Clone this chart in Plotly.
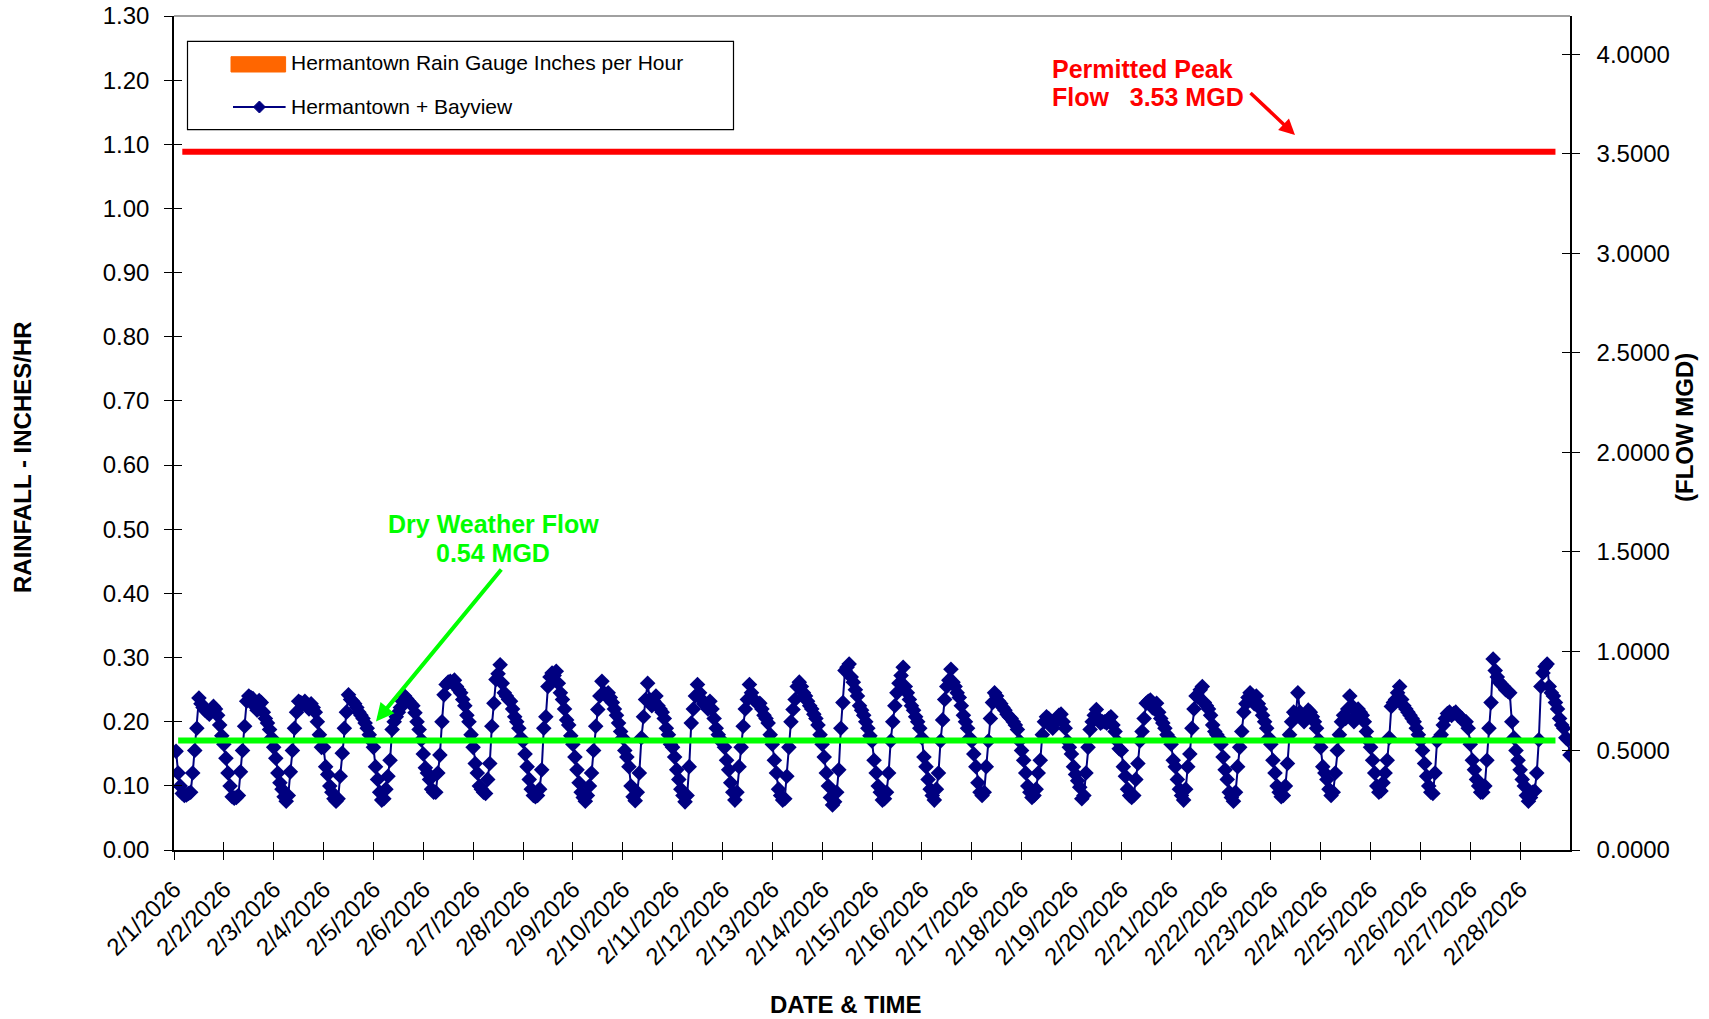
import pandas as pd
import plotly.graph_objects as go

# ---------------- data (hourly flow, MGD) ----------------
feb01 = [0.496, 0.387, 0.322, 0.284, 0.274, 0.277, 0.284, 0.290, 0.387, 0.500, 0.612, 0.764, 0.735, 0.716, 0.703, 0.693, 0.683, 0.703, 0.722, 0.709, 0.677, 0.628, 0.574]
feb02 = [0.532, 0.461, 0.387, 0.322, 0.268, 0.261, 0.264, 0.274, 0.393, 0.500, 0.622, 0.748, 0.774, 0.767, 0.761, 0.722, 0.703, 0.751, 0.741, 0.693, 0.661, 0.638, 0.606, 0.564]
feb03 = [0.516, 0.461, 0.387, 0.338, 0.306, 0.268, 0.245, 0.274, 0.393, 0.500, 0.612, 0.693, 0.748, 0.741, 0.735, 0.748, 0.725, 0.709, 0.735, 0.716, 0.693, 0.645, 0.580, 0.516]
feb04 = [0.516, 0.419, 0.380, 0.322, 0.290, 0.258, 0.245, 0.258, 0.371, 0.487, 0.612, 0.693, 0.780, 0.757, 0.748, 0.735, 0.716, 0.693, 0.677, 0.661, 0.638, 0.612, 0.580, 0.548]
feb05 = [0.516, 0.419, 0.355, 0.290, 0.251, 0.258, 0.306, 0.371, 0.451, 0.606, 0.645, 0.670, 0.693, 0.716, 0.748, 0.774, 0.761, 0.748, 0.735, 0.725, 0.690, 0.645, 0.606, 0.554]
feb06 = [0.483, 0.413, 0.387, 0.355, 0.306, 0.290, 0.290, 0.387, 0.477, 0.645, 0.780, 0.832, 0.844, 0.848, 0.844, 0.854, 0.822, 0.806, 0.790, 0.757, 0.725, 0.677, 0.645, 0.580]
feb07 = [0.516, 0.435, 0.387, 0.322, 0.306, 0.290, 0.284, 0.355, 0.435, 0.622, 0.738, 0.857, 0.886, 0.931, 0.838, 0.790, 0.774, 0.757, 0.748, 0.709, 0.670, 0.645, 0.612, 0.564]
feb08 = [0.548, 0.483, 0.419, 0.355, 0.306, 0.274, 0.268, 0.274, 0.306, 0.403, 0.612, 0.670, 0.822, 0.870, 0.890, 0.877, 0.899, 0.838, 0.790, 0.757, 0.709, 0.654, 0.628, 0.574]
feb09 = [0.532, 0.467, 0.403, 0.338, 0.290, 0.264, 0.245, 0.274, 0.322, 0.387, 0.500, 0.622, 0.706, 0.774, 0.848, 0.790, 0.774, 0.790, 0.767, 0.741, 0.709, 0.677, 0.638, 0.596]
feb10 = [0.564, 0.500, 0.467, 0.419, 0.322, 0.268, 0.248, 0.290, 0.387, 0.564, 0.670, 0.757, 0.838, 0.757, 0.725, 0.748, 0.774, 0.725, 0.709, 0.693, 0.661, 0.612, 0.580, 0.532]
feb11 = [0.516, 0.467, 0.403, 0.355, 0.306, 0.274, 0.242, 0.274, 0.419, 0.638, 0.709, 0.774, 0.832, 0.790, 0.757, 0.735, 0.725, 0.709, 0.748, 0.709, 0.661, 0.612, 0.580, 0.548]
feb12 = [0.548, 0.516, 0.451, 0.403, 0.338, 0.290, 0.251, 0.290, 0.419, 0.516, 0.622, 0.709, 0.757, 0.832, 0.790, 0.757, 0.748, 0.735, 0.738, 0.709, 0.677, 0.661, 0.638, 0.580]
feb13 = [0.532, 0.451, 0.387, 0.306, 0.274, 0.251, 0.258, 0.371, 0.516, 0.645, 0.706, 0.757, 0.822, 0.844, 0.822, 0.790, 0.774, 0.748, 0.725, 0.709, 0.683, 0.661, 0.628, 0.580]
feb14 = [0.532, 0.467, 0.387, 0.322, 0.264, 0.226, 0.242, 0.290, 0.403, 0.612, 0.741, 0.902, 0.919, 0.935, 0.870, 0.844, 0.806, 0.774, 0.725, 0.703, 0.677, 0.645, 0.612, 0.574]
feb15 = [0.548, 0.451, 0.387, 0.322, 0.290, 0.251, 0.258, 0.290, 0.387, 0.548, 0.645, 0.725, 0.790, 0.838, 0.877, 0.919, 0.822, 0.790, 0.757, 0.725, 0.703, 0.670, 0.645, 0.612]
feb16 = [0.564, 0.467, 0.419, 0.355, 0.306, 0.274, 0.251, 0.306, 0.387, 0.548, 0.654, 0.757, 0.822, 0.854, 0.909, 0.844, 0.822, 0.790, 0.767, 0.725, 0.677, 0.645, 0.612, 0.564]
feb17 = [0.548, 0.483, 0.419, 0.338, 0.290, 0.274, 0.290, 0.419, 0.548, 0.661, 0.741, 0.790, 0.774, 0.748, 0.735, 0.716, 0.703, 0.683, 0.670, 0.661, 0.645, 0.628, 0.606, 0.548]
feb18 = [0.500, 0.451, 0.387, 0.322, 0.290, 0.264, 0.274, 0.306, 0.387, 0.451, 0.580, 0.645, 0.670, 0.661, 0.645, 0.612, 0.638, 0.661, 0.677, 0.683, 0.645, 0.612, 0.548, 0.516]
feb19 = [0.483, 0.419, 0.380, 0.348, 0.316, 0.258, 0.274, 0.387, 0.516, 0.606, 0.645, 0.677, 0.706, 0.661, 0.638, 0.645, 0.645, 0.638, 0.661, 0.670, 0.628, 0.596, 0.548, 0.509]
feb20 = [0.500, 0.419, 0.371, 0.306, 0.274, 0.264, 0.274, 0.355, 0.435, 0.548, 0.596, 0.661, 0.738, 0.748, 0.754, 0.716, 0.709, 0.738, 0.693, 0.661, 0.638, 0.612, 0.580, 0.564]
feb21 = [0.532, 0.451, 0.419, 0.355, 0.306, 0.274, 0.251, 0.306, 0.419, 0.483, 0.612, 0.709, 0.774, 0.767, 0.806, 0.822, 0.741, 0.725, 0.709, 0.677, 0.628, 0.596, 0.580, 0.564]
feb22 = [0.532, 0.467, 0.403, 0.355, 0.290, 0.264, 0.245, 0.290, 0.419, 0.516, 0.596, 0.693, 0.735, 0.767, 0.790, 0.757, 0.735, 0.774, 0.735, 0.709, 0.677, 0.645, 0.612, 0.564]
feb23 = [0.532, 0.451, 0.387, 0.322, 0.290, 0.268, 0.274, 0.322, 0.435, 0.580, 0.645, 0.693, 0.683, 0.790, 0.693, 0.661, 0.645, 0.677, 0.703, 0.693, 0.670, 0.645, 0.612, 0.554]
feb24 = [0.516, 0.419, 0.387, 0.355, 0.306, 0.274, 0.290, 0.387, 0.500, 0.580, 0.645, 0.677, 0.661, 0.709, 0.774, 0.725, 0.645, 0.677, 0.709, 0.693, 0.677, 0.645, 0.596, 0.548]
feb25 = [0.516, 0.451, 0.387, 0.322, 0.290, 0.297, 0.338, 0.387, 0.451, 0.564, 0.722, 0.741, 0.757, 0.790, 0.822, 0.757, 0.725, 0.709, 0.693, 0.677, 0.661, 0.645, 0.612, 0.580]
feb26 = [0.548, 0.500, 0.435, 0.371, 0.322, 0.290, 0.284, 0.387, 0.548, 0.564, 0.580, 0.628, 0.661, 0.686, 0.693, 0.677, 0.686, 0.693, 0.677, 0.670, 0.661, 0.645, 0.645, 0.612]
feb27 = [0.532, 0.451, 0.403, 0.355, 0.322, 0.290, 0.290, 0.322, 0.451, 0.612, 0.741, 0.960, 0.902, 0.870, 0.844, 0.832, 0.822, 0.806, 0.799, 0.790, 0.645, 0.564, 0.500, 0.451]
feb28 = [0.403, 0.355, 0.322, 0.274, 0.245, 0.264, 0.290, 0.297, 0.387, 0.554, 0.822, 0.890, 0.922, 0.935, 0.822, 0.790, 0.774, 0.741, 0.709, 0.661, 0.628, 0.612, 0.564, 0.554]
mar01 = [0.477]

flow_days = [feb01, feb02, feb03, feb04, feb05, feb06, feb07, feb08, feb09, feb10,
             feb11, feb12, feb13, feb14, feb15, feb16, feb17, feb18, feb19, feb20,
             feb21, feb22, feb23, feb24, feb25, feb26, feb27, feb28, mar01]
flow_mgd = [v for day in flow_days for v in day]
flow_start = "2026-02-01 01:00"

# reference lines (MGD)
peak_flow_mgd = 3.51
peak_line_time = ["2026-02-01 04:00", "2026-02-28 17:00"]
dry_flow_mgd = 0.55
dry_line_time = ["2026-02-01 02:00", "2026-02-28 17:00"]

# axes
x_range = ["2026-02-01", "2026-03-01"]
tick_dates = pd.date_range("2026-02-01", "2026-02-28", freq="D")
rain_range = [0, 1.30]
flow_range = [0, 4.193]

# ---------------- figure ----------------
FONT = "Arial, 'Liberation Sans', sans-serif"
W, H = 1709, 1019
L, R, T, B = 174, 139, 16, 169
PW, PH = W - L - R, H - T - B


def px(xp):
    return (xp - L) / PW


def py(yp):
    return (H - B - yp) / PH


flow_time = pd.date_range(flow_start, periods=len(flow_mgd), freq="h")

fig = go.Figure()
fig.add_trace(go.Bar(x=[], y=[], name="Hermantown Rain Gauge Inches per Hour",
                     marker_color="#FF6600", yaxis="y", showlegend=False))
fig.add_trace(go.Scatter(x=flow_time, y=flow_mgd, name="Hermantown + Bayview",
                         mode="lines+markers", yaxis="y2",
                         line=dict(color="#000080", width=2),
                         marker=dict(symbol="diamond", size=12, color="#000080"),
                         showlegend=False))
fig.add_trace(go.Scatter(x=dry_line_time, y=[dry_flow_mgd, dry_flow_mgd], mode="lines",
                         yaxis="y2", line=dict(color="#00FF00", width=6),
                         showlegend=False, name="Dry Weather Flow"))
fig.add_trace(go.Scatter(x=peak_line_time, y=[peak_flow_mgd, peak_flow_mgd], mode="lines",
                         yaxis="y2", line=dict(color="#FF0000", width=6),
                         showlegend=False, name="Permitted Peak Flow"))
# dummy traces for inner tick axes
fig.add_trace(go.Scatter(x=[], y=[], xaxis="x2", yaxis="y3", showlegend=False, hoverinfo="skip"))
fig.add_trace(go.Scatter(x=[], y=[], xaxis="x2", yaxis="y4", showlegend=False, hoverinfo="skip"))

tickfont = dict(family=FONT, size=24, color="black")
common = dict(showgrid=False, zeroline=False, ticks="outside", ticklen=8, tickwidth=1.3,
              tickcolor="black", showline=True, linecolor="black", linewidth=1.5)

fig.update_layout(
    width=W, height=H,
    margin=dict(l=L, r=R, t=T, b=B, autoexpand=False),
    plot_bgcolor="white", paper_bgcolor="white",
    font=dict(family=FONT, color="black"),
    showlegend=False,
    xaxis=dict(type="date", range=x_range, tickvals=tick_dates, tickformat="%-m/%-d/%Y",
               tickangle=-45, tickfont=tickfont, ticklabelstandoff=6, **common),
    yaxis=dict(range=rain_range, tick0=0, dtick=0.1, tickformat=".2f", tickfont=tickfont,
               ticklabelstandoff=10, **common),
    yaxis2=dict(range=flow_range, tick0=0, dtick=0.5, tickformat=".4f", tickfont=tickfont,
                overlaying="y", side="right", anchor="x", ticklabelstandoff=12, **common),
    xaxis2=dict(type="date", range=x_range, tickvals=tick_dates, overlaying="x", anchor="y",
                showticklabels=False, ticks="inside", ticklen=8, tickwidth=1.3, tickcolor="black",
                showgrid=False, zeroline=False, showline=False),
    yaxis3=dict(range=rain_range, tick0=0, dtick=0.1, overlaying="y", side="left", anchor="x2",
                showticklabels=False, ticks="inside", ticklen=8, tickwidth=1.3, tickcolor="black",
                showgrid=False, zeroline=False, showline=False),
    yaxis4=dict(range=flow_range, tick0=0, dtick=0.5, overlaying="y", side="right", anchor="x2",
                showticklabels=False, ticks="inside", ticklen=8, tickwidth=1.3, tickcolor="black",
                showgrid=False, zeroline=False, showline=False),
)

# top border of plot area
fig.add_shape(type="line", xref="paper", yref="paper", x0=0, x1=1, y0=1, y1=1,
              line=dict(color="#808080", width=1.3))

# ---------------- manual legend ----------------
fig.add_shape(type="rect", xref="paper", yref="paper",
              x0=px(187.5), x1=px(733.5), y0=py(129.7), y1=py(41.4),
              line=dict(color="black", width=1.2), fillcolor="white", layer="above")
fig.add_shape(type="rect", xref="paper", yref="paper",
              x0=px(231), x1=px(285.6), y0=py(72), y1=py(56.7),
              line=dict(color="#FF6600", width=1), fillcolor="#FF6600", layer="above")
fig.add_shape(type="line", xref="paper", yref="paper",
              x0=px(233), x1=px(285.6), y0=py(107), y1=py(107),
              line=dict(color="#000080", width=2), layer="above")
cx, cy, dx, dy = px(259.4), py(107), 6 / PW, 6 / PH
fig.add_shape(type="path", xref="paper", yref="paper",
              path=f"M {cx-dx},{cy} L {cx},{cy+dy} L {cx+dx},{cy} L {cx},{cy-dy} Z",
              line=dict(color="#000080", width=1), fillcolor="#000080", layer="above")
fig.add_annotation(text="Hermantown Rain Gauge Inches per Hour", xref="paper", yref="paper",
                   x=px(289), y=py(63), xanchor="left", yanchor="middle", showarrow=False,
                   font=dict(family=FONT, size=21, color="black"))
fig.add_annotation(text="Hermantown + Bayview", xref="paper", yref="paper",
                   x=px(289), y=py(107), xanchor="left", yanchor="middle", showarrow=False,
                   font=dict(family=FONT, size=21, color="black"))

# ---------------- axis titles ----------------
title_font = dict(family=FONT, size=24, color="black")
fig.add_annotation(text="<b>RAINFALL - INCHES/HR</b>", xref="paper", yref="paper",
                   x=px(22), y=py(457), textangle=-90, showarrow=False,
                   xanchor="center", yanchor="middle", font=title_font)
fig.add_annotation(text="<b>DATE &amp; TIME</b>", xref="paper", yref="paper",
                   x=px(846), y=py(1004), showarrow=False,
                   xanchor="center", yanchor="middle", font=title_font)
fig.add_annotation(text="<b>(FLOW MGD)</b>", xref="paper", yref="paper",
                   x=px(1684), y=py(428), textangle=-90, showarrow=False,
                   xanchor="center", yanchor="middle", font=title_font)

# ---------------- callouts ----------------
red_font = dict(family=FONT, size=25, color="#FF0000")
green_font = dict(family=FONT, size=25, color="#00FF00")
fig.add_annotation(text="<b>Permitted Peak</b>", xref="paper", yref="paper",
                   x=px(1049.6), y=py(68.6), xanchor="left", yanchor="middle",
                   showarrow=False, font=red_font)
fig.add_annotation(text="<b>Flow\u00a0\u00a0 3.53 MGD</b>", xref="paper", yref="paper",
                   x=px(1049.6), y=py(97), xanchor="left", yanchor="middle",
                   showarrow=False, font=red_font)
fig.add_annotation(text="", xref="paper", yref="paper", x=px(1295), y=py(135),
                   ax=1249 - 1295, ay=91.5 - 135, showarrow=True, arrowhead=2,
                   arrowsize=0.9, arrowwidth=3.5, arrowcolor="#FF0000")

fig.add_annotation(text="<b>Dry Weather Flow</b>", xref="paper", yref="paper",
                   x=px(493), y=py(524), xanchor="center", yanchor="middle",
                   showarrow=False, font=green_font)
fig.add_annotation(text="<b>0.54 MGD</b>", xref="paper", yref="paper",
                   x=px(493), y=py(553), xanchor="center", yanchor="middle",
                   showarrow=False, font=green_font)
fig.add_annotation(text="", xref="paper", yref="paper", x=px(376), y=py(721.5),
                   ax=502.5 - 376, ay=568 - 721.5, showarrow=True, arrowhead=2,
                   arrowsize=0.9, arrowwidth=4, arrowcolor="#00FF00")

fig.write_html("out.html", config={"displayModeBar": False},
               post_script="document.body.style.margin='0';document.body.style.overflow='hidden';")
